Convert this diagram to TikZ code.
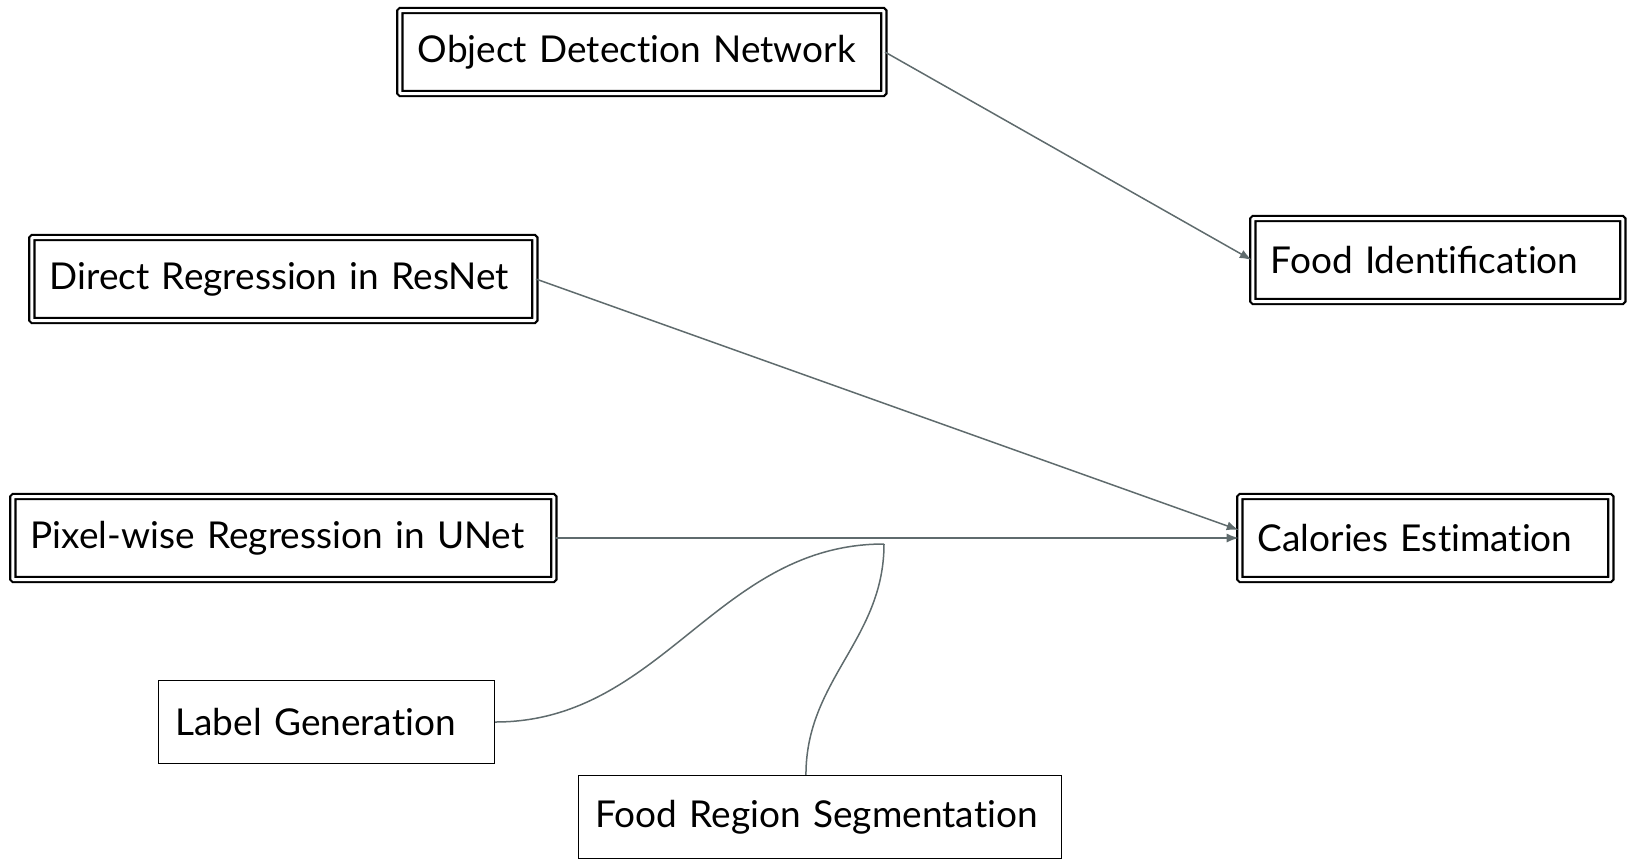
\documentclass[tikz,border=0pt]{standalone}
\usepackage{fontspec}
\setmainfont{Lato}[Ligatures=NoCommon]
\usetikzlibrary{calc, arrows.meta}
\definecolor{wire}{RGB}{95,107,109}
\def\pad{18pt}
\tikzset{box/.style={draw=black, double=white, line width=2.2pt, double distance=3pt, rounded corners=1pt, anchor=west, inner xsep=\pad, align=left, minimum height=83pt, font=\fontsize{37}{44}\selectfont}}
\tikzset{plainbox/.style={draw=black, line width=1.5pt, anchor=west, inner xsep=17pt, align=left, minimum height=83pt, font=\fontsize{37}{44}\selectfont}}
\tikzset{wire/.style={draw=wire, line width=1.5pt}}
\tikzset{flow/.style={wire, -{Latex[length=12pt, width=9pt]}}}

\begin{document}
\begin{tikzpicture}[x=1pt, y=-1pt]
  \useasboundingbox (0,0) rectangle (1627,860);
  % Double boxes
  \node[box, text width=448pt] (odn) at (398.7,52) {Object Detection Network};
  \node[box, text width=334pt] (fi) at (1251.7,260) {Food Identiﬁcation};
  \node[box, text width=467pt] (drr) at (30.7,279) {Direct Regression in ResNet};
  \node[box, text width=335pt] (ce) at (1238.7,538) {Calories Estimation};
  \node[box, text width=505pt] (pru) at (11.7,538) {Pixel-wise Regression in UNet};
  % Single boxes
  \node[plainbox, text width=302pt] (lg) at (157.7,722) {Label Generation};
  \node[plainbox, text width=449pt] (frs) at (577.7,817) {Food Region Segmentation};
  % Arrows
  \draw[flow] (odn.east) -- (fi.west);
  \draw[flow] (drr.east) -- ([yshift=8pt]ce.west);
  \draw[flow] (pru.east) -- (ce.west);
  % Curves meeting below the UNet arrow
  \coordinate (join) at (884,544);
  \draw[wire] (lg.east) to[out=0, in=180] (join);
  \draw[wire] ([xshift=-14pt]frs.north) to[out=90, in=-90] (join);
\end{tikzpicture}
\end{document}
